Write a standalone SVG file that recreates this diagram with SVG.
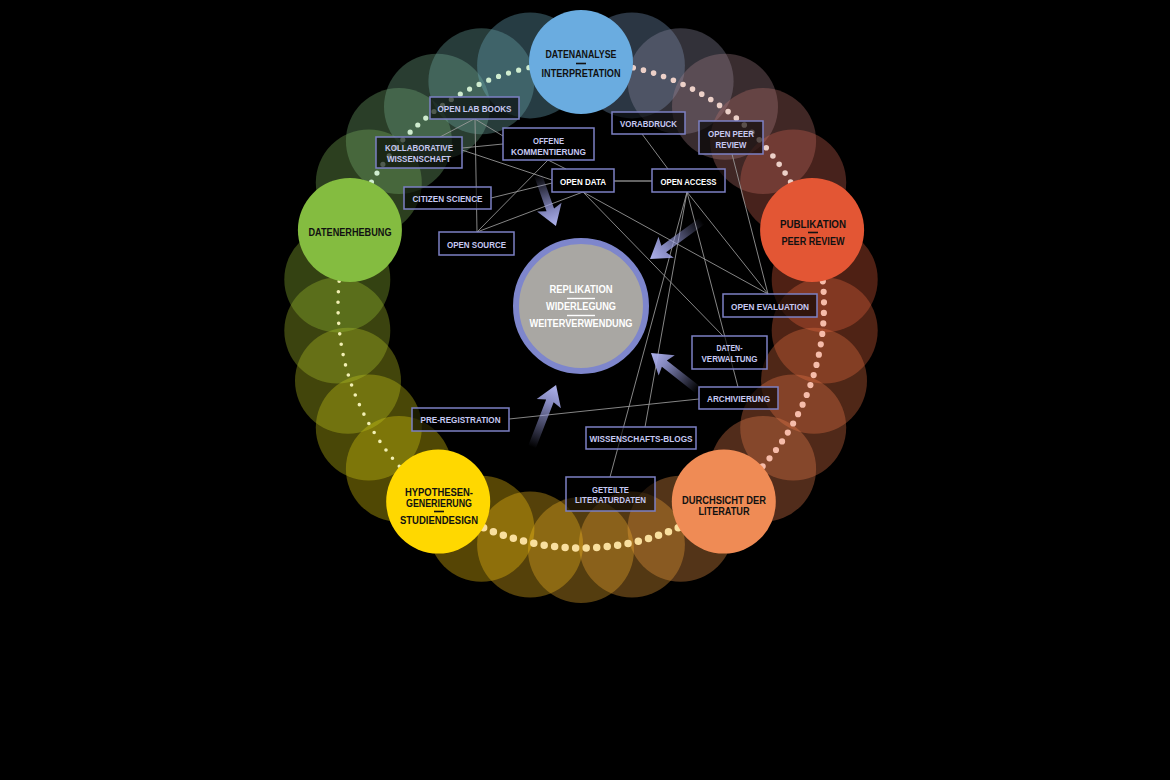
<svg xmlns="http://www.w3.org/2000/svg" width="1170" height="780" viewBox="0 0 1170 780">
<defs>
<style>
.g{fill-opacity:0.34}
.dots{fill:none;stroke-linecap:round}
.main text{font-family:"Liberation Sans Narrow","Liberation Sans",Arial,sans-serif;font-weight:bold;font-size:11.6px;fill:#111;text-anchor:middle}
.main text.tight{font-size:10.4px}
.dash{stroke:#111;stroke-width:1.6}
.box rect{fill:#000;fill-opacity:0.62;stroke:#7c80c4;stroke-width:1.5}
.box text{font-family:"Liberation Sans Narrow","Liberation Sans",Arial,sans-serif;font-weight:bold;font-size:9.6px;fill:#c6c8f2;text-anchor:middle}
.box.key text{fill:#fff}
.conn line{stroke:#9c9c9c;stroke-width:1;stroke-opacity:0.85}
.ctr text{font-family:"Liberation Sans Narrow","Liberation Sans",Arial,sans-serif;font-weight:bold;font-size:11.2px;fill:#fff;text-anchor:middle}
.arrow{fill:url(#ag)}
</style>
<linearGradient id="ag" x1="0" y1="0" x2="1" y2="0">
<stop offset="0" stop-color="#9ca0e0" stop-opacity="0"/>
<stop offset="0.7" stop-color="#9ca0e0" stop-opacity="0.85"/>
<stop offset="1" stop-color="#b0b4ee" stop-opacity="1"/>
</linearGradient>
</defs>
<rect width="1170" height="780" fill="#000"/>

<g id="ghosts">
<circle class="g" cx="368.8" cy="182.5" r="53" fill="#80b95b"/>
<circle class="g" cx="398.9" cy="141.1" r="53" fill="#7bb775"/>
<circle class="g" cx="437.0" cy="106.8" r="53" fill="#77b490"/>
<circle class="g" cx="481.4" cy="81.2" r="53" fill="#73b1ab"/>
<circle class="g" cx="530.1" cy="65.4" r="53" fill="#6eafc5"/>
<circle class="g" cx="631.9" cy="65.4" r="53" fill="#7e9ec3"/>
<circle class="g" cx="680.6" cy="81.2" r="53" fill="#928fa7"/>
<circle class="g" cx="725.0" cy="106.8" r="53" fill="#a7818a"/>
<circle class="g" cx="763.1" cy="141.1" r="53" fill="#bb736d"/>
<circle class="g" cx="793.2" cy="182.5" r="53" fill="#cf6451"/>
<circle class="g" cx="824.7" cy="279.4" r="53" fill="#e55f3a"/>
<circle class="g" cx="824.7" cy="330.6" r="53" fill="#e7683f"/>
<circle class="g" cx="814.0" cy="380.7" r="53" fill="#e97144"/>
<circle class="g" cx="793.2" cy="427.5" r="53" fill="#eb794a"/>
<circle class="g" cx="763.1" cy="468.9" r="53" fill="#ed8250"/>
<circle class="g" cx="680.6" cy="528.8" r="53" fill="#f29847"/>
<circle class="g" cx="631.9" cy="544.6" r="53" fill="#f4a539"/>
<circle class="g" cx="581.0" cy="550.0" r="53" fill="#f7b22b"/>
<circle class="g" cx="530.1" cy="544.6" r="53" fill="#fabe1c"/>
<circle class="g" cx="481.4" cy="528.8" r="53" fill="#fccb0e"/>
<circle class="g" cx="398.9" cy="468.9" r="53" fill="#ebd30b"/>
<circle class="g" cx="368.8" cy="427.5" r="53" fill="#d6cf15"/>
<circle class="g" cx="348.0" cy="380.7" r="53" fill="#c2ca20"/>
<circle class="g" cx="337.3" cy="330.6" r="53" fill="#adc52b"/>
<circle class="g" cx="337.3" cy="279.4" r="53" fill="#99c135"/>
</g>

<g id="dotted-arcs">
<path class="dots" d="M349.9 229.9 A243 243 0 0 1 581 62" stroke="#cfeccf" stroke-width="5.2" stroke-dasharray="0 10.53"/>
<path class="dots" d="M581 62 A243 243 0 0 1 812.1 229.9" stroke="#ecd0c8" stroke-width="5.6" stroke-dasharray="0 10.53"/>
<path class="dots" d="M812.1 229.9 A243 243 0 0 1 723.8 501.6" stroke="#f6bcaa" stroke-width="6.2" stroke-dasharray="0 10.53"/>
<path class="dots" d="M723.8 501.6 A243 243 0 0 1 438.2 501.6" stroke="#f9df9e" stroke-width="7.5" stroke-dasharray="0 10.53"/>
<path class="dots" d="M438.2 501.6 A243 243 0 0 1 349.9 229.9" stroke="#f2f0b4" stroke-width="3.6" stroke-dasharray="0 10.53"/>
</g>

<g id="connectors" class="conn">
<line x1="474" y1="119" x2="440" y2="137"/>
<line x1="475" y1="119" x2="477" y2="232"/>
<line x1="475" y1="119" x2="503" y2="136"/>
<line x1="462" y1="148" x2="503" y2="144"/>
<line x1="462" y1="150" x2="552" y2="180"/>
<line x1="491" y1="198" x2="552" y2="183"/>
<line x1="548" y1="160" x2="477" y2="232"/>
<line x1="548" y1="160" x2="566" y2="169"/>
<line x1="477" y1="232" x2="583" y2="192"/>
<line x1="614" y1="181" x2="652" y2="181" style="stroke-width:1.6"/>
<line x1="642" y1="134" x2="668" y2="169"/>
<line x1="583" y1="192" x2="768" y2="294"/>
<line x1="583" y1="192" x2="723" y2="336"/>
<line x1="687" y1="192" x2="768" y2="294"/>
<line x1="687" y1="192" x2="738" y2="387"/>
<line x1="687" y1="192" x2="645" y2="427"/>
<line x1="687" y1="192" x2="610" y2="477"/>
<line x1="732" y1="154" x2="768" y2="294"/>
<line x1="699" y1="399" x2="509" y2="419"/>
</g>

<g id="arrows">
<path class="arrow" transform="translate(538 175) rotate(70.6)" d="M0 -4 H37 L34 -13 L54 0 L34 13 L37 4 H0 Z"/>
<path class="arrow" transform="translate(702 221) rotate(143.8)" d="M0 -4 H47.4 L44.4 -13 L64.4 0 L44.4 13 L47.4 4 H0 Z"/>
<path class="arrow" transform="translate(698 390) rotate(218.2)" d="M0 -4 H42.8 L39.8 -13 L59.8 0 L39.8 13 L42.8 4 H0 Z"/>
<path class="arrow" transform="translate(532 447) rotate(-68.8)" d="M0 -4 H49.5 L46.5 -13 L66.5 0 L46.5 13 L49.5 4 H0 Z"/>
</g>

<g id="center" class="ctr">
<circle cx="581" cy="306" r="65" fill="#a9a7a3" stroke="#7e86cc" stroke-width="6"/>
<text x="581" y="293" textLength="63" lengthAdjust="spacingAndGlyphs">REPLIKATION</text>
<line x1="567" y1="298.5" x2="595" y2="298.5" stroke="#fff" stroke-width="1.4"/>
<text x="581" y="310" textLength="70" lengthAdjust="spacingAndGlyphs">WIDERLEGUNG</text>
<line x1="567" y1="315.5" x2="595" y2="315.5" stroke="#fff" stroke-width="1.4"/>
<text x="581" y="327" textLength="103" lengthAdjust="spacingAndGlyphs">WEITERVERWENDUNG</text>
</g>

<g id="n-datenanalyse" class="main">
<circle cx="581" cy="62" r="52" fill="#6aace0"/>
<text x="581" y="58" textLength="71" lengthAdjust="spacingAndGlyphs">DATENANALYSE</text>
<line class="dash" x1="576" y1="63.5" x2="586" y2="63.5"/>
<text x="581" y="77" textLength="79" lengthAdjust="spacingAndGlyphs">INTERPRETATION</text>
</g>
<g id="n-publikation" class="main">
<circle cx="812.1" cy="229.9" r="52" fill="#e35634"/>
<text x="813" y="228" textLength="66" lengthAdjust="spacingAndGlyphs">PUBLIKATION</text>
<line class="dash" x1="808" y1="232.5" x2="818" y2="232.5"/>
<text x="813" y="245" textLength="63" lengthAdjust="spacingAndGlyphs">PEER REVIEW</text>
</g>
<g id="n-durchsicht" class="main">
<circle cx="723.8" cy="501.6" r="52" fill="#ef8b55"/>
<text class="tight" x="724" y="504" textLength="84" lengthAdjust="spacingAndGlyphs">DURCHSICHT DER</text>
<text class="tight" x="724" y="515" textLength="51" lengthAdjust="spacingAndGlyphs">LITERATUR</text>
</g>
<g id="n-hypothesen" class="main">
<circle cx="438.2" cy="501.6" r="52" fill="#ffd800"/>
<text class="tight" x="439" y="495.5" textLength="68" lengthAdjust="spacingAndGlyphs">HYPOTHESEN-</text>
<text class="tight" x="439" y="506.5" textLength="66" lengthAdjust="spacingAndGlyphs">GENERIERUNG</text>
<line class="dash" x1="434" y1="511.5" x2="444" y2="511.5"/>
<text x="439" y="523.5" textLength="78" lengthAdjust="spacingAndGlyphs">STUDIENDESIGN</text>
</g>
<g id="n-datenerhebung" class="main">
<circle cx="349.9" cy="229.9" r="52" fill="#84bc40"/>
<text x="350" y="236" textLength="83" lengthAdjust="spacingAndGlyphs">DATENERHEBUNG</text>
</g>

<g id="b-openlabbooks" class="box"><rect x="430" y="97" width="89" height="22"/><text x="474.5" y="112" textLength="74" lengthAdjust="spacingAndGlyphs">OPEN LAB BOOKS</text></g>
<g id="b-kollaborative" class="box"><rect x="376" y="137" width="86" height="31"/><text x="419" y="151" textLength="68" lengthAdjust="spacingAndGlyphs">KOLLABORATIVE</text><text x="419" y="161.5" textLength="64" lengthAdjust="spacingAndGlyphs">WISSENSCHAFT</text></g>
<g id="b-offene" class="box"><rect x="503" y="128" width="91" height="32"/><text x="548.5" y="143.5" textLength="31" lengthAdjust="spacingAndGlyphs">OFFENE</text><text x="548.5" y="154.5" textLength="75" lengthAdjust="spacingAndGlyphs">KOMMENTIERUNG</text></g>
<g id="b-citizen" class="box"><rect x="404" y="187" width="87" height="22"/><text x="447.5" y="202" textLength="70" lengthAdjust="spacingAndGlyphs">CITIZEN SCIENCE</text></g>
<g id="b-opendata" class="box key"><rect x="552" y="169" width="62" height="23"/><text x="583" y="184.5" textLength="46" lengthAdjust="spacingAndGlyphs">OPEN DATA</text></g>
<g id="b-opensource" class="box"><rect x="439" y="232" width="75" height="23"/><text x="476.5" y="247.5" textLength="59" lengthAdjust="spacingAndGlyphs">OPEN SOURCE</text></g>
<g id="b-vorabdruck" class="box"><rect x="612" y="112" width="73" height="22"/><text x="648.5" y="127" textLength="57" lengthAdjust="spacingAndGlyphs">VORABDRUCK</text></g>
<g id="b-openpeer" class="box"><rect x="699" y="121" width="64" height="33"/><text x="731" y="137" textLength="46" lengthAdjust="spacingAndGlyphs">OPEN PEER</text><text x="731" y="147.5" textLength="31" lengthAdjust="spacingAndGlyphs">REVIEW</text></g>
<g id="b-openaccess" class="box key"><rect x="652" y="169" width="73" height="23"/><text x="688.5" y="184.5" textLength="56" lengthAdjust="spacingAndGlyphs">OPEN ACCESS</text></g>
<g id="b-openevaluation" class="box"><rect x="723" y="294" width="94" height="23"/><text x="770" y="309.5" textLength="78" lengthAdjust="spacingAndGlyphs">OPEN EVALUATION</text></g>
<g id="b-datenverwaltung" class="box"><rect x="692" y="336" width="75" height="33"/><text x="729.5" y="351" textLength="26" lengthAdjust="spacingAndGlyphs">DATEN-</text><text x="729.5" y="361.5" textLength="56" lengthAdjust="spacingAndGlyphs">VERWALTUNG</text></g>
<g id="b-archivierung" class="box"><rect x="699" y="387" width="79" height="22"/><text x="738.5" y="401.5" textLength="63" lengthAdjust="spacingAndGlyphs">ARCHIVIERUNG</text></g>
<g id="b-preregistration" class="box"><rect x="412" y="408" width="97" height="23"/><text x="460.5" y="423" textLength="80" lengthAdjust="spacingAndGlyphs">PRE-REGISTRATION</text></g>
<g id="b-blogs" class="box"><rect x="586" y="427" width="110" height="22"/><text x="641" y="441.5" textLength="103" lengthAdjust="spacingAndGlyphs">WISSENSCHAFTS-BLOGS</text></g>
<g id="b-literaturdaten" class="box"><rect x="566" y="477" width="89" height="34"/><text x="610.5" y="492.5" textLength="37" lengthAdjust="spacingAndGlyphs">GETEILTE</text><text x="610.5" y="503" textLength="71" lengthAdjust="spacingAndGlyphs">LITERATURDATEN</text></g>
</svg>
